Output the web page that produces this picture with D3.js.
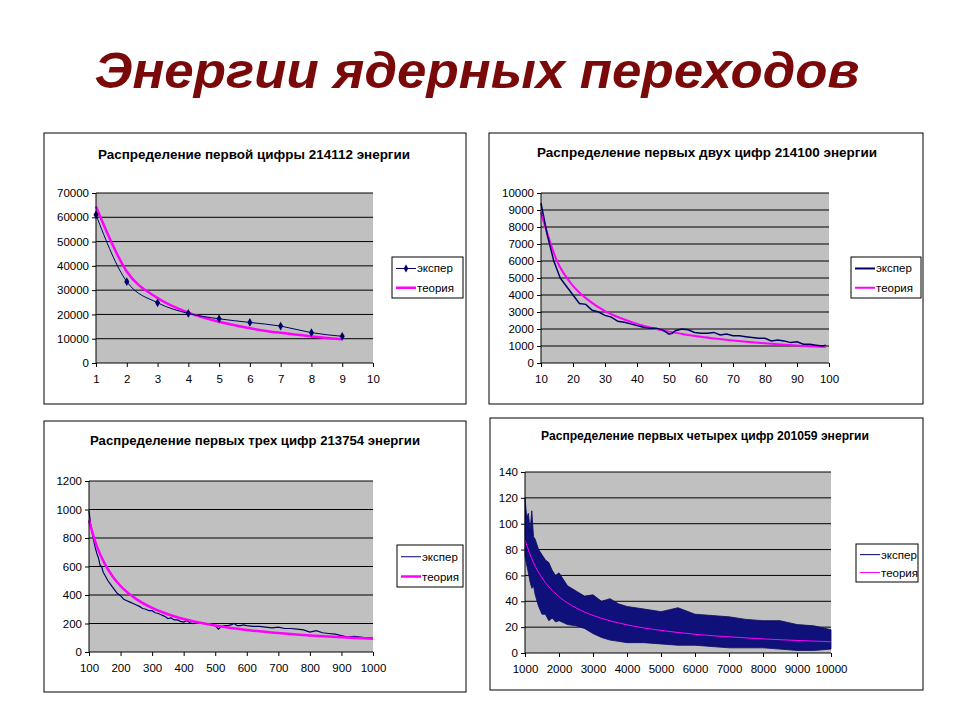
<!DOCTYPE html>
<html><head><meta charset="utf-8">
<script src="https://cdn.jsdelivr.net/npm/d3@7"></script>
<style>body{margin:0;background:#fff}text{font-family:"Liberation Sans",Arial,sans-serif}</style>
</head><body><svg id="c" width="960" height="720"></svg>
<script>
// ---- data ----
const p1Digits=[1,2,3,4,5,6,7,8,9];
const p1Exp=[61000,33500,24800,20400,18200,16700,15200,12500,11000];
const p1Theo=[64450,37700,26750,20750,16950,14330,12420,10960,9800];

const p2X=[10,12,14,16,18,20,22,24,26,28,30,32,34,36,38,40,42,44,46,48,50,51,52,54,56,58,60,62,64,66,68,70,72,74,76,78,80,82,84,86,88,90,92,94,96,98,99];
const p2Exp=[9400,7500,6000,5000,4500,4000,3500,3450,3100,3000,2800,2700,2450,2400,2300,2200,2100,2050,2050,1950,1700,1750,1900,2000,1950,1800,1750,1750,1800,1650,1700,1600,1600,1550,1500,1450,1450,1300,1350,1300,1200,1250,1100,1100,1050,1000,1050];
const p2TX=[10,15,20,25,30,35,40,45,50,55,60,65,70,75,80,85,90,95,99];
const p2Theo=[8860,6000,4540,3670,3055,2630,2300,2045,1846,1682,1540,1424,1322,1236,1158,1090,1030,975,937];

const p3X=[100,105,110,115,120,125,130,135,140,145,150,160,170,180,190,200,210,220,230,240,250,260,270,280,290,300,310,320,330,340,350,360,370,380,390,400,410,420,430,440,450,460,470,480,490,500,510,520,530,540,550,560,570,580,590,600,620,640,660,680,700,720,740,760,780,800,820,840,860,880,900,920,940,960,980,1000];
const p3Exp=[990,900,840,780,730,690,660,610,600,560,540,500,470,440,410,395,370,360,350,340,330,320,305,300,290,290,275,270,260,250,235,240,225,225,215,210,220,205,200,210,205,200,200,195,190,185,160,180,185,185,190,200,185,185,190,185,180,180,175,170,175,165,165,160,155,140,150,135,130,125,115,105,110,105,100,100];
const p3TX=[100,125,150,175,200,250,300,350,400,500,600,700,800,900,1000];
const p3Theo=[924,741,618,530,463,371,309,265,232,186,155,133,116,103,93];

const p4X=[1000,1050,1100,1150,1200,1250,1300,1400,1500,1600,1700,1800,1900,2000,2250,2500,2750,3000,3250,3500,3750,4000,4500,5000,5500,6000,6500,7000,7500,8000,8500,9000,9500,10000];
const p4Hi=[120,105,108,95,110,90,88,80,76,72,70,64,60,62,52,48,44,45,40,42,38,36,34,32,35,30,29,28,26,25,25,22,21,18];
const p4Lo=[75,68,62,55,50,52,45,36,30,30,25,27,24,25,22,21,19,15,12,10,9,8,8,7,6,6,5,4,4,4,3,2,2,3];
const p4TX=[1000,1250,1500,2000,2500,3000,4000,5000,6000,7000,8000,9000,10000];
const p4Theo=[87.3,69.8,58.2,43.6,34.9,29.1,21.8,17.5,14.5,12.5,10.9,9.7,8.7];

const legendLabels=["экспер","теория"];
const EXP="#000066", TH="#ff00ff";

const svg=d3.select("#c");
svg.append("text").attr("x",477).attr("y",88).attr("text-anchor","middle")
 .attr("font-size",50).attr("font-weight","bold").attr("font-style","italic")
 .attr("textLength",765).attr("lengthAdjust","spacingAndGlyphs")
 .attr("fill","#7a0a0a").text("Энергии ядерных переходов");

function panel(o){
 svg.append("rect").attr("x",o.fx).attr("y",o.fy).attr("width",o.fw).attr("height",o.fh)
  .attr("fill","#fff").attr("stroke","#000");
 svg.append("text").attr("x",o.tx).attr("y",o.ty).attr("text-anchor","middle")
  .attr("font-size",13).attr("font-weight","bold").attr("textLength",o.tl).attr("lengthAdjust","spacingAndGlyphs").text(o.title);
 const x=d3.scaleLinear().domain(o.xd).range([o.l,o.r]);
 const y=d3.scaleLinear().domain(o.yd).range([o.b,o.t]);
 svg.append("rect").attr("x",o.l).attr("y",o.t).attr("width",o.r-o.l).attr("height",o.b-o.t).attr("fill","#c0c0c0");
 const yt=d3.range(o.yd[0],o.yd[1]+1e-9,o.ys);
 svg.append("g").selectAll("line").data(yt.slice(1)).join("line")
  .attr("x1",o.l).attr("x2",o.r).attr("y1",d=>y(d)).attr("y2",d=>y(d)).attr("stroke","#000");
 svg.append("g").attr("transform",`translate(${o.l},0)`).call(d3.axisLeft(y).tickValues(yt).tickSize(4).tickFormat(d3.format("d")))
  .call(g=>{g.selectAll("text").attr("font-size",11.5).attr("font-family","Liberation Sans,Arial");g.select(".domain").remove();});
 svg.append("g").attr("transform",`translate(0,${o.b})`).call(d3.axisBottom(x).tickValues(o.xt).tickSize(4).tickFormat(d3.format("d")))
  .call(g=>{g.selectAll("text").attr("font-size",11.5).attr("font-family","Liberation Sans,Arial").attr("dy","1.1em");g.select(".domain").remove();});
 const sp=svg.append("g");
 o.draw(sp,x,y);
 const L=o.leg;
 svg.append("rect").attr("x",L[0]).attr("y",L[1]).attr("width",L[2]).attr("height",L[3]).attr("fill","#fff").attr("stroke","#000");
 const rows=[L[1]+L[3]*0.28,L[1]+L[3]*0.75];
 svg.append("line").attr("x1",L[0]+4).attr("x2",L[0]+24).attr("y1",rows[0]).attr("y2",rows[0]).attr("stroke",EXP).attr("stroke-width",o.ew);
 if(o.marker) svg.append("path").attr("d",d3.symbol(d3.symbolDiamond,18)()).attr("transform",`translate(${L[0]+14},${rows[0]})`).attr("fill",EXP);
 svg.append("line").attr("x1",L[0]+4).attr("x2",L[0]+24).attr("y1",rows[1]).attr("y2",rows[1]).attr("stroke",TH).attr("stroke-width",o.tw);
 legendLabels.forEach((t,i)=>svg.append("text").attr("x",L[0]+25).attr("y",rows[i]+4).attr("font-size",11.5).text(t));
 svg.append("line").attr("x1",o.l).attr("x2",o.l).attr("y1",o.t).attr("y2",o.b).attr("stroke","#000");
 svg.append("line").attr("x1",o.l).attr("x2",o.r).attr("y1",o.b).attr("y2",o.b).attr("stroke","#000");
}

panel({fx:44,fy:133,fw:422,fh:271,tx:254,ty:159,tl:312,title:"Распределение первой цифры 214112 энергии",
 l:96,r:373,t:193,b:363,xd:[1,10],yd:[0,70000],ys:10000,xt:d3.range(1,11),leg:[392,257,71,41],ew:1,tw:2.5,marker:true,
 draw:(g,x,y)=>{
  g.append("path").attr("d",d3.line().x((d,i)=>x(p1Digits[i])).y(d=>y(d)).curve(d3.curveMonotoneX)(p1Theo)).attr("fill","none").attr("stroke",TH).attr("stroke-width",2.5);
  g.append("path").attr("d",d3.line().x((d,i)=>x(p1Digits[i])).y(d=>y(d)).curve(d3.curveMonotoneX)(p1Exp)).attr("fill","none").attr("stroke",EXP).attr("stroke-width",1);
  g.selectAll("p").data(p1Exp).join("path").attr("d",d3.symbol(d3.symbolDiamond,22)()).attr("transform",(d,i)=>`translate(${x(p1Digits[i])},${y(d)})`).attr("fill",EXP);
 }});

panel({fx:489,fy:133,fw:434,fh:271,tx:707,ty:157,tl:340,title:"Распределение первых двух цифр 214100 энергии",
 l:541,r:829,t:193,b:363,xd:[10,100],yd:[0,10000],ys:1000,xt:d3.range(10,101,10),leg:[851,257,70,41],ew:2,tw:2,
 draw:(g,x,y)=>{
  g.append("path").attr("d",d3.line().x((d,i)=>x(p2TX[i])).y(d=>y(d)).curve(d3.curveMonotoneX)(p2Theo)).attr("fill","none").attr("stroke",TH).attr("stroke-width",2);
  g.append("path").attr("d",d3.line().x((d,i)=>x(p2X[i])).y(d=>y(d))(p2Exp)).attr("fill","none").attr("stroke",EXP).attr("stroke-width",1.5);
 }});

panel({fx:44,fy:421,fw:422,fh:271,tx:255,ty:445,tl:330,title:"Распределение  первых трех цифр 213754  энергии",
 l:89,r:373,t:481,b:652,xd:[100,1000],yd:[0,1200],ys:200,xt:d3.range(100,1001,100),leg:[397,545,66,42],ew:1,tw:2.5,
 draw:(g,x,y)=>{
  g.append("path").attr("d",d3.line().x((d,i)=>x(p3X[i])).y(d=>y(d))(p3Exp)).attr("fill","none").attr("stroke",EXP).attr("stroke-width",1.2);
  g.append("path").attr("d",d3.line().x((d,i)=>x(p3TX[i])).y(d=>y(d)).curve(d3.curveMonotoneX)(p3Theo)).attr("fill","none").attr("stroke",TH).attr("stroke-width",2.5);
 }});

panel({fx:490,fy:418,fw:433,fh:272,tx:705,ty:440,tl:328,title:"Распределение  первых четырех цифр 201059 энергии",
 l:525,r:831,t:472,b:653,xd:[1000,10000],yd:[0,140],ys:20,xt:d3.range(1000,10001,1000),leg:[856,544,62,38],ew:1,tw:1,
 draw:(g,x,y)=>{
  g.append("path").attr("d",d3.area().x((d,i)=>x(p4X[i])).y0((d,i)=>y(p4Lo[i])).y1(d=>y(d))(p4Hi)).attr("fill","#10107a").attr("stroke","#0a0a60").attr("stroke-width",0.8);
  g.append("path").attr("d",d3.line().x((d,i)=>x(p4TX[i])).y(d=>y(d)).curve(d3.curveMonotoneX)(p4Theo)).attr("fill","none").attr("stroke",TH).attr("stroke-width",1);
 }});
</script></body></html>
